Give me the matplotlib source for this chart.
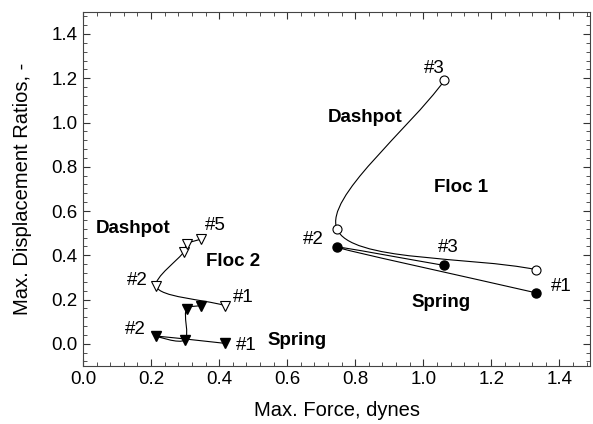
import numpy as np
import matplotlib
matplotlib.use('Agg')
import matplotlib.pyplot as plt
from matplotlib.path import Path
from matplotlib.patches import PathPatch
from matplotlib.ticker import MultipleLocator

plt.rcParams['font.family'] = ['Liberation Sans', 'DejaVu Sans']

# Floc 1, points #1..#3
floc1DashX = [1.332, 0.746, 1.062]
floc1DashY = [0.335, 0.520, 1.190]
floc1SpringX = [1.332, 0.746, 1.062]
floc1SpringY = [0.230, 0.437, 0.354]

# Floc 2, points #1..#5
floc2DashX = [0.417, 0.215, 0.297, 0.305, 0.346]
floc2DashY = [0.173, 0.260, 0.417, 0.450, 0.473]
floc2SpringX = [0.417, 0.215, 0.299, 0.305, 0.346]
floc2SpringY = [0.002, 0.035, 0.017, 0.158, 0.173]

# text labels: (text, x, y, bold)
labels = [
    ('#3', 1.032, 1.246, False), ('Dashpot', 0.829, 1.024, True),
    ('Floc 1', 1.111, 0.706, True), ('#2', 0.677, 0.473, False),
    ('#3', 1.072, 0.437, False), ('#1', 1.405, 0.260, False),
    ('Spring', 1.052, 0.185, True),
    ('Dashpot', 0.148, 0.522, True), ('#5', 0.388, 0.533, False),
    ('Floc 2', 0.442, 0.372, True), ('#2', 0.160, 0.287, False),
    ('#1', 0.472, 0.208, False), ('#2', 0.153, 0.065, False),
    ('#1', 0.480, -0.010, False), ('Spring', 0.628, 0.017, True),
]


def smoothCurve(ax, xs, ys):
    """Centripetal Catmull-Rom curve through the points, drawn as beziers."""
    pts = ax.transData.transform(np.column_stack([xs, ys]))
    n = len(pts)
    dt = np.sqrt(np.hypot(*(pts[1:] - pts[:-1]).T))
    m = np.zeros_like(pts)
    for i in range(1, n - 1):
        p0, p1, p2 = pts[i - 1], pts[i], pts[i + 1]
        m[i] = ((p1 - p0) / dt[i - 1] - (p2 - p0) / (dt[i - 1] + dt[i])
                + (p2 - p1) / dt[i])
    verts = [pts[0]]
    codes = [Path.MOVETO]
    for i in range(n - 1):
        if i == 0:
            c1 = pts[0] + (pts[1] - pts[0]) / 3
        else:
            c1 = pts[i] + m[i] * dt[i] / 3
        if i == n - 2:
            c2 = pts[i + 1] - (pts[i + 1] - pts[i]) / 3
        else:
            c2 = pts[i + 1] - m[i + 1] * dt[i] / 3
        verts += [c1, c2, pts[i + 1]]
        codes += [Path.CURVE4] * 3
    verts = ax.transData.inverted().transform(np.array(verts))
    ax.add_patch(PathPatch(Path(verts, codes), fill=False, lw=0.8,
                           edgecolor='black', zorder=2))


fig = plt.figure(figsize=(5.93, 4.24), dpi=100)
ax = fig.add_axes([0.140, 0.137, 0.855, 0.835])
ax.set_xlim(0, 1.49)
ax.set_ylim(-0.1, 1.5)

for xs, ys in [(floc1DashX, floc1DashY), (floc1SpringX, floc1SpringY),
               (floc2DashX, floc2DashY), (floc2SpringX, floc2SpringY)]:
    smoothCurve(ax, xs, ys)

ax.plot(floc1DashX, floc1DashY, 'o', ms=6.5, mfc='white', mec='black',
        mew=0.8, zorder=3)
ax.plot(floc1SpringX, floc1SpringY, 'o', ms=6.5, mfc='black', mec='black',
        zorder=3)
ax.plot(floc2DashX, floc2DashY, 'v', ms=7.5, mfc='white', mec='black',
        mew=0.8, zorder=3)
ax.plot(floc2SpringX, floc2SpringY, 'v', ms=7.5, mfc='black', mec='black',
        zorder=3)

for txt, x, y, bold in labels:
    ax.text(x, y, txt, fontsize=13.5, ha='center', va='center',
            fontweight='bold' if bold else 'normal')

ax.xaxis.set_major_locator(MultipleLocator(0.2))
ax.xaxis.set_minor_locator(MultipleLocator(0.04))
ax.yaxis.set_major_locator(MultipleLocator(0.2))
ax.yaxis.set_minor_locator(MultipleLocator(0.04))
ax.xaxis.set_major_formatter(plt.FormatStrFormatter('%.1f'))
ax.yaxis.set_major_formatter(plt.FormatStrFormatter('%.1f'))
ax.tick_params(which='both', direction='in', top=True, right=True,
               labelsize=13.5, color='#333333')
ax.tick_params(which='major', length=5, pad=4)
ax.tick_params(which='minor', length=3)
for sp in ax.spines.values():
    sp.set_color('#444444')

ax.set_xlabel('Max. Force, dynes', fontsize=14.5, labelpad=9)
ax.set_ylabel('Max. Displacement Ratios, -', fontsize=14.5, labelpad=14)

fig.savefig('out.png', dpi=100)
